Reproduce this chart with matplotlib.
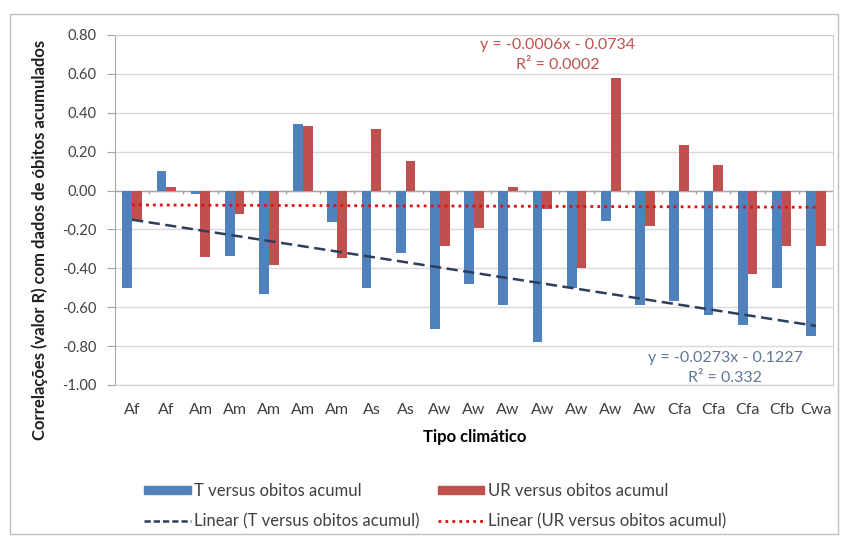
import numpy as np
import matplotlib

matplotlib.use("Agg")
import matplotlib.pyplot as plt
from matplotlib.patches import Patch, Rectangle
from matplotlib.lines import Line2D

plt.rcParams["font.family"] = ["Lato", "DejaVu Sans"]

# tipos climáticos (eixo x) e correlações R
tipos = ["Af", "Af", "Am", "Am", "Am", "Am", "Am", "As", "As", "Aw", "Aw",
         "Aw", "Aw", "Aw", "Aw", "Aw", "Cfa", "Cfa", "Cfa", "Cfb", "Cwa"]
r_temp = [-0.50, 0.10, -0.02, -0.335, -0.53, 0.34, -0.163, -0.50, -0.32, -0.71, -0.483,
          -0.59, -0.78, -0.50, -0.154, -0.59, -0.566, -0.638, -0.69, -0.50, -0.75]
r_ur = [-0.155, 0.02, -0.34, -0.12, -0.385, 0.33, -0.346, 0.317, 0.15, -0.283, -0.19,
        0.02, -0.094, -0.40, 0.58, -0.18, 0.235, 0.132, -0.43, -0.286, -0.286]

# coeficientes das linhas de tendência (Excel)
coef_temp = (-0.0273, -0.1227)
r2_temp = "0.332"
coef_ur = (-0.0006, -0.0734)
r2_ur = "0.0002"

AZUL = "#4F81BD"
VERMELHO = "#C0504D"
TEND_T = "#2C3E5C"
TEND_UR = "#E01010"

fig = plt.figure(figsize=(8.41, 5.36), dpi=100)
W, H = 841, 536
ax = fig.add_axes([115 / W, 1 - 385 / H, (833 - 115) / W, (385 - 35) / H])

x = np.arange(len(tipos))
bw = 1 / 3.5
ax.bar(x - bw / 2, r_temp, bw, color=AZUL, zorder=3)
ax.bar(x + bw / 2, r_ur, bw, color=VERMELHO, zorder=3)

# linhas de tendência lineares, x = 1..n como no Excel
xn = x + 1
ax.plot(x, coef_temp[0] * xn + coef_temp[1], color=TEND_T, ls=(0, (4.5, 2.2)),
        lw=1.8, zorder=4)
ax.plot(x, coef_ur[0] * xn + coef_ur[1], color=TEND_UR, ls=(0, (1, 1.5)),
        lw=2.0, zorder=4)

ax.set_xlim(-0.5, len(tipos) - 0.5)
ax.set_ylim(-1.0, 0.8)
yt = np.round(np.arange(-1.0, 0.81, 0.2), 2)
ax.set_yticks(yt)
ax.set_yticklabels([f"{v + 0.0:.2f}" for v in yt])
ax.yaxis.grid(True, color="#D9D9D9", lw=1, zorder=0)
ax.set_axisbelow(True)

# eixo das categorias em zero, rótulos embaixo
ax.axhline(0, color="#A6A6A6", lw=1, zorder=2)
ax.vlines(x[:-1] + 0.5, -0.02, 0, color="#A6A6A6", lw=1, zorder=2)
ax.set_xticks(x)
ax.set_xticklabels(tipos)
ax.tick_params(axis="x", length=0, pad=13, labelsize=11.5, labelcolor="#404040")
ax.tick_params(axis="y", length=6, color="#A6A6A6", labelsize=10.5,
               labelcolor="#404040", pad=7)
for s in ["top", "right", "bottom"]:
    ax.spines[s].set_color("#D0D0D0")
ax.spines["left"].set_color("#A6A6A6")

fig.text(475 / W, 1 - 437 / H, "Tipo climático", ha="center", va="center",
         fontsize=12, fontweight="bold")
fig.text(40 / W, 1 - 240 / H,
         "Correlações (valor R) com dados de óbitos acumulados",
         rotation=90, ha="center", va="center", fontsize=12, fontweight="bold",
         color="#202020")

# equações das tendências
fig.text(558 / W, 1 - 45 / H,
         f"y = {coef_ur[0]:.4f}x - {abs(coef_ur[1]):.4f}",
         ha="center", va="center", fontsize=11.5, color=VERMELHO)
fig.text(558 / W, 1 - 65 / H, f"R² = {r2_ur}",
         ha="center", va="center", fontsize=11.5, color=VERMELHO)
fig.text(725 / W, 1 - 358 / H,
         f"y = {coef_temp[0]:.4f}x - {abs(coef_temp[1]):.4f}",
         ha="center", va="center", fontsize=11.5, color="#5F7796")
fig.text(725 / W, 1 - 378 / H, f"R² = {r2_temp}",
         ha="center", va="center", fontsize=11.5, color="#5F7796")

handles = [
    Patch(color=AZUL, label="T versus obitos acumul"),
    Line2D([0], [0], color=TEND_T, ls=(0, (2.5, 1.2)), lw=1.8,
           label="Linear (T versus obitos acumul)"),
    Patch(color=VERMELHO, label="UR versus obitos acumul"),
    Line2D([0], [0], color=TEND_UR, ls=(0, (1, 1.5)), lw=2.0,
           label="Linear (UR versus obitos acumul)"),
]
fig.legend(handles=handles, ncol=2, loc="center",
           bbox_to_anchor=(435 / W, 1 - 506 / H), frameon=False,
           fontsize=12, handlelength=2.8, handleheight=0.4,
           columnspacing=1.1, labelspacing=0.85, handletextpad=0.2,
           labelcolor="#404040", borderpad=0)

# moldura do gráfico
fig.patches.append(Rectangle((10 / W, 1 - 534 / H), 828 / W, 520 / H,
                             transform=fig.transFigure, fill=False,
                             edgecolor="#BFBFBF", lw=1))

fig.savefig("out.png", dpi=100, facecolor="white")
